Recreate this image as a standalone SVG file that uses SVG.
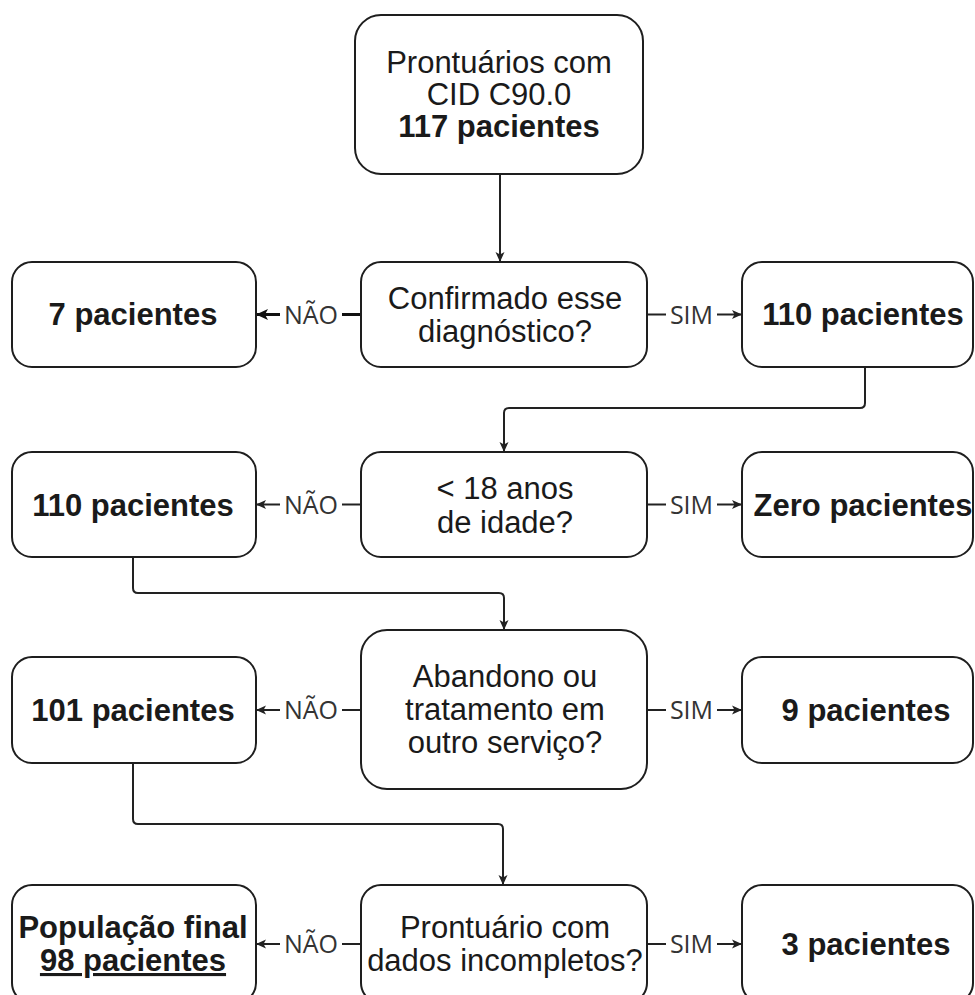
<svg xmlns="http://www.w3.org/2000/svg" width="975" height="995" viewBox="0 0 975 995">
<style>
.box{fill:#ffffff;stroke:#1e1e1e;stroke-width:2}
.t{font-family:"Liberation Sans",Arial,sans-serif;font-size:31px;fill:#1a1a1a;text-anchor:middle}
.b{font-weight:bold}
.e{fill:none;stroke:#222222;stroke-width:2;stroke-linejoin:round}
.eb{fill:none;stroke:#111111;stroke-width:3.2}
.lbg{fill:#ffffff;stroke:none}
.lt{font-family:"Open Sans","DejaVu Sans",sans-serif;font-size:25px;fill:#333333;text-anchor:middle}
</style>
<defs>
<marker id="ah" markerUnits="userSpaceOnUse" markerWidth="12" markerHeight="12" refX="10" refY="6" orient="auto">
<path d="M0,1.5 L10,6 L0,10.5 L2.5,6 Z" fill="#222222"/>
</marker>
<marker id="ahb" markerUnits="userSpaceOnUse" markerWidth="14" markerHeight="14" refX="12" refY="7" orient="auto">
<path d="M0,1.5 L12,7 L0,12.5 L3,7 Z" fill="#111111"/>
</marker>
</defs>
<rect width="975" height="995" fill="#ffffff"/>

<g id="connectors">
<path class="e" d="M500,174 V262" marker-end="url(#ah)"/>
<path class="eb" d="M361,314.5 H256" marker-end="url(#ahb)"/>
<path class="e" d="M647,314.5 H742" marker-end="url(#ah)"/>
<path class="e" d="M865,367 V403 Q865,408 860,408 H509 Q504,408 504,413 V452" marker-end="url(#ah)"/>
<path class="e" d="M361,504.5 H256" marker-end="url(#ah)"/>
<path class="e" d="M647,504.5 H742" marker-end="url(#ah)"/>
<path class="e" d="M133,557 V588 Q133,593 138,593 H499 Q504,593 504,598 V630" marker-end="url(#ah)"/>
<path class="e" d="M361,710 H256" marker-end="url(#ah)"/>
<path class="e" d="M647,710 H742" marker-end="url(#ah)"/>
<path class="e" d="M133,763 V819 Q133,824 138,824 H498 Q503,824 503,829 V885" marker-end="url(#ah)"/>
<path class="e" d="M361,944 H256" marker-end="url(#ah)"/>
<path class="e" d="M647,944 H742" marker-end="url(#ah)"/>
<g id="edge-labels">
<rect class="lbg" x="280" y="300" width="62" height="30"/>
<text class="lt" x="311" y="323.5">NÃO</text>
<rect class="lbg" x="666" y="300" width="51" height="30"/>
<text class="lt" x="691.5" y="323.5">SIM</text>
<rect class="lbg" x="280" y="490" width="62" height="30"/>
<text class="lt" x="311" y="513.5">NÃO</text>
<rect class="lbg" x="666" y="490" width="51" height="30"/>
<text class="lt" x="691.5" y="513.5">SIM</text>
<rect class="lbg" x="280" y="695" width="62" height="30"/>
<text class="lt" x="311" y="719">NÃO</text>
<rect class="lbg" x="666" y="695" width="51" height="30"/>
<text class="lt" x="691.5" y="719">SIM</text>
<rect class="lbg" x="280" y="929" width="62" height="30"/>
<text class="lt" x="311" y="953">NÃO</text>
<rect class="lbg" x="666" y="929" width="51" height="30"/>
<text class="lt" x="691.5" y="953">SIM</text>
</g>
</g>

<g id="n-inicio">
<rect class="box" x="355" y="15" width="288" height="159" rx="26"/>
<text class="t" x="499" y="73">Prontuários com</text>
<text class="t" x="499" y="105">CID C90.0</text>
<text class="t b" x="499" y="137">117 pacientes</text>
</g>

<g id="n-q1">
<rect class="box" x="361" y="262" width="286" height="105" rx="20"/>
<text class="t" x="505" y="309">Confirmado esse</text>
<text class="t" x="505" y="342">diagnóstico?</text>
</g>
<g id="n-7">
<rect class="box" x="12" y="262" width="244" height="105" rx="20"/>
<text class="t b" x="133" y="325">7 pacientes</text>
</g>
<g id="n-110a">
<rect class="box" x="742" y="262" width="231" height="105" rx="20"/>
<text class="t b" x="863" y="325">110 pacientes</text>
</g>

<g id="n-q2">
<rect class="box" x="361" y="452" width="286" height="105" rx="20"/>
<text class="t" x="505" y="499">&lt; 18 anos</text>
<text class="t" x="505" y="533">de idade?</text>
</g>
<g id="n-110b">
<rect class="box" x="12" y="452" width="244" height="105" rx="20"/>
<text class="t b" x="133" y="515.5">110 pacientes</text>
</g>
<g id="n-zero">
<rect class="box" x="742" y="452" width="231" height="105" rx="20"/>
<text class="t b" x="863" y="515.5">Zero pacientes</text>
</g>

<g id="n-q3">
<rect class="box" x="361" y="630" width="286" height="159" rx="26"/>
<text class="t" x="505" y="687">Abandono ou</text>
<text class="t" x="505" y="720">tratamento em</text>
<text class="t" x="505" y="753">outro serviço?</text>
</g>
<g id="n-101">
<rect class="box" x="12" y="657" width="244" height="106" rx="20"/>
<text class="t b" x="133" y="721">101 pacientes</text>
</g>
<g id="n-9">
<rect class="box" x="742" y="657" width="231" height="106" rx="20"/>
<text class="t b" x="866" y="721">9 pacientes</text>
</g>

<g id="n-q4">
<rect class="box" x="361" y="885" width="286" height="118" rx="20"/>
<text class="t" x="505" y="938">Prontuário com</text>
<text class="t" x="505" y="971">dados incompletos?</text>
</g>
<g id="n-final">
<rect class="box" x="12" y="885" width="244" height="118" rx="20"/>
<text class="t b" x="133" y="938">População final</text>
<text class="t b" x="133" y="971" text-decoration="underline">98 pacientes</text>
</g>
<g id="n-3">
<rect class="box" x="742" y="885" width="231" height="118" rx="20"/>
<text class="t b" x="866" y="955">3 pacientes</text>
</g>
</svg>
